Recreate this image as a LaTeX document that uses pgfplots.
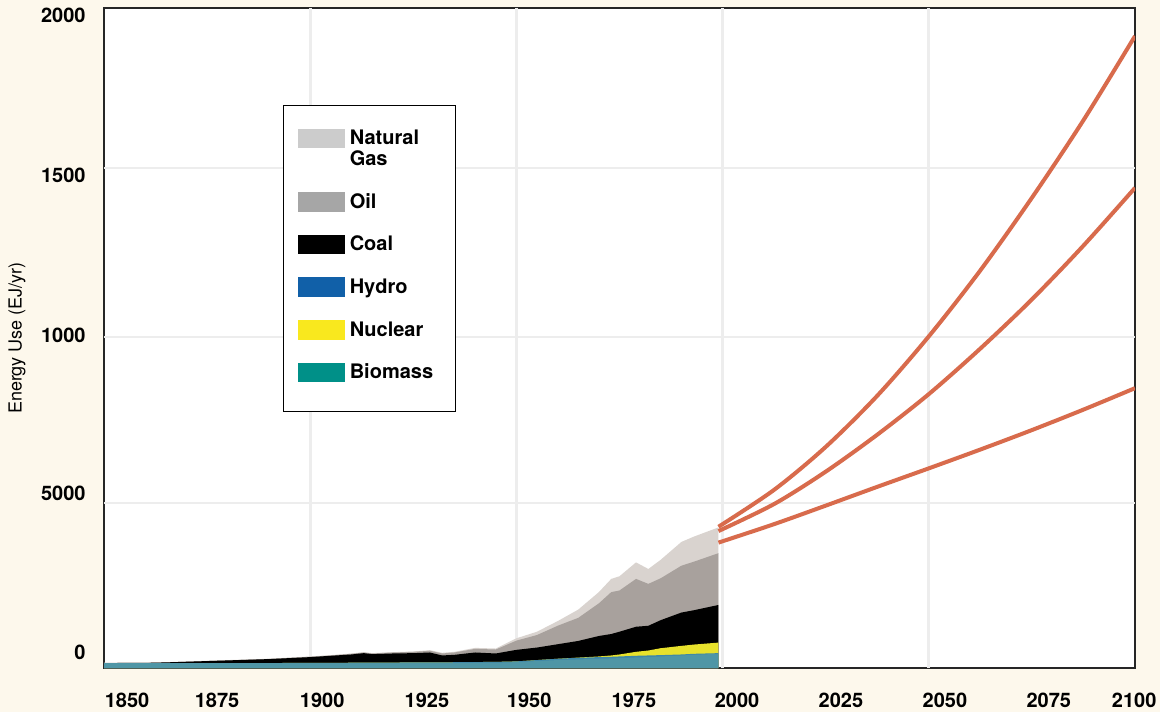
\documentclass[border=0pt]{standalone}
\usepackage{pgfplots}
\pgfplotsset{compat=1.18}
\usepackage{pgfplotstable}
\usepackage{fontspec}
\setmainfont{TeX Gyre Heros}
\definecolor{cream}{HTML}{FDF8EC}
\definecolor{gasc}{HTML}{D9D3CF}
\definecolor{oilc}{HTML}{A8A19D}
\definecolor{coalc}{HTML}{000000}
\definecolor{nucc}{HTML}{E8E22C}
\definecolor{hydc}{HTML}{3F88A8}
\definecolor{bioc}{HTML}{4F96A6}
\definecolor{gaslg}{HTML}{CCCCCC}
\definecolor{oillg}{HTML}{A6A6A6}
\definecolor{hydlg}{HTML}{1160A8}
\definecolor{nuclg}{HTML}{F9E81E}
\definecolor{biolg}{HTML}{009088}
\definecolor{projc}{HTML}{D86B4C}

% cumulative tops: B biomass, H hydro, N nuclear, C coal, O oil, G gas
\pgfplotstableread{
year B H N C O G
1850 15 15 15 15 15 16
1860 15 15 15 15.5 15.5 16.5
1865 15 15 15 17 17 17.5
1870 15 15 15 19 19 19.5
1875 15 15 15 21 21 22
1880 15 15 15 23 23 24
1890 15 15 15 27 27.5 28
1900 15 15.5 15.5 33 34 35
1905 15 15.5 15.5 37 38 39
1910 15 16 16 41 43 44
1913 15 16 16 45 47 48
1915 15 16.5 16.5 42 44 45
1920 15 16.5 16.5 44 47 48
1925 15 17 17 45 49 50
1929 15 17 17 47 52 54
1932 15 17 17 38 44 46
1935 15 17.5 17.5 40 47 49
1940 16 18 18 47 58 61
1945 16 18.5 18.5 44 56 59
1950 18 20 20 55 83 90
1955 21 24 24 62 100 110
1960 24 28 28 72 128 142
1965 26 31 31.5 82 152 177
1970 28 33 35 97 196 230
1973 29 34 38 103 230 270
1975 30 35 41 110 235 278
1979 32 37 49 125 270 320
1982 33 38 53 128 255 300
1985 35 39 60 145 272 328
1990 38 41 67 168 310 382
1993 40 43 71 175 322 398
1999 43 45 77 191 348 426
}\hist

\begin{document}
\begin{tikzpicture}
\fill[cream] (-52pt,-22pt) rectangle (528pt,334pt);
\begin{axis}[
  at={(0,0)}, anchor=south west,
  scale only axis, width=515.5pt, height=330pt,
  xmin=1850, xmax=2100, ymin=0, ymax=2000,
  axis background/.style={fill=white},
  axis line style={line width=0.7pt, black!85},
  xtick={1855.6,1877.4,1902.9,1928.3,1953.1,1978.5,2003.5,2028.7,2053.9,2079.1,2099.8},
  xticklabels={1850,1875,1900,1925,1950,1975,2000,2025,2050,2075,2100},
  ytick={48,530,1009,1494,1979},
  yticklabels={0,5000,1000,1500,2000},
  major tick length=0pt,
  tick style={draw=none},
  extra x ticks={1900,1950,2000,2050}, extra x tick labels={},
  extra y ticks={500,1003,1515}, extra y tick labels={},
  extra tick style={grid=major},
  major grid style={line width=1.4pt, black!7},
  /pgf/number format/assume math mode=true,
  ticklabel style={font=\fontsize{10}{12}\selectfont\bfseries, inner sep=0pt},
  xticklabel style={yshift=-12.5pt},
  yticklabel style={xshift=-9pt},
  ylabel={Energy Use (EJ/yr)},
  ylabel style={at={(axis description cs:-0.0844,0.5)}, anchor=center, font=\fontsize{9}{11}\selectfont},
  legend cell align=left,
  legend style={at={(rel axis cs:0.1736,0.853)}, anchor=north west,
    draw=black, line width=0.6pt, fill=white,
    inner xsep=7pt, inner ysep=11.5pt, row sep=11.3pt, column sep=2.5pt,
    cells={anchor=base west},
    nodes={font=\fontsize{10}{10.5}\selectfont\bfseries, text width=46pt, align=left,
      text height=7.5pt, text depth=2pt, inner sep=0pt}},
]
\addplot[fill=gasc, draw=none, forget plot] table[x=year, y=G] {\hist} \closedcycle;
\addplot[fill=oilc, draw=none, forget plot] table[x=year, y=O] {\hist} \closedcycle;
\addplot[fill=coalc, draw=none, forget plot] table[x=year, y=C] {\hist} \closedcycle;
\addplot[fill=nucc, draw=none, forget plot] table[x=year, y=N] {\hist} \closedcycle;
\addplot[fill=hydc, draw=none, forget plot] table[x=year, y=H] {\hist} \closedcycle;
\addplot[fill=bioc, draw=none, forget plot] table[x=year, y=B] {\hist} \closedcycle;

\addplot[projc, line width=2pt, smooth, forget plot] coordinates {
(1999,428) (2012.5,540) (2025,670) (2037.5,825) (2050,1005)
(2062.5,1205) (2075,1425) (2087.5,1660) (2100,1915)};
\addplot[projc, line width=2pt, smooth, forget plot] coordinates {
(1999,415) (2012.5,497) (2025,595) (2037.5,707) (2050,830)
(2062.5,968) (2075,1117) (2087.5,1280) (2100,1455)};
\addplot[projc, line width=2pt, smooth, forget plot] coordinates {
(1999,380) (2012.5,436) (2025,492) (2037.5,549) (2050,605)
(2062.5,662) (2075,721) (2087.5,783) (2100,848)};

\addlegendimage{legend image code/.code={\fill[gaslg] (0pt,-1.5pt) rectangle (23pt,7.7pt);}}
\addlegendentry[text depth=12.5pt]{Natural\\Gas}
\addlegendimage{legend image code/.code={\fill[oillg] (0pt,-1.5pt) rectangle (23pt,7.7pt);}}
\addlegendentry{Oil}
\addlegendimage{legend image code/.code={\fill[black] (0pt,-1.5pt) rectangle (23pt,7.7pt);}}
\addlegendentry{Coal}
\addlegendimage{legend image code/.code={\fill[hydlg] (0pt,-1.5pt) rectangle (23pt,7.7pt);}}
\addlegendentry{Hydro}
\addlegendimage{legend image code/.code={\fill[nuclg] (0pt,-1.5pt) rectangle (23pt,7.7pt);}}
\addlegendentry{Nuclear}
\addlegendimage{legend image code/.code={\fill[biolg] (0pt,-1.5pt) rectangle (23pt,7.7pt);}}
\addlegendentry[text depth=5pt]{Biomass}
\end{axis}
\pgfresetboundingbox
\useasboundingbox (-52pt,-22pt) rectangle (528pt,334pt);
\end{tikzpicture}
\end{document}
